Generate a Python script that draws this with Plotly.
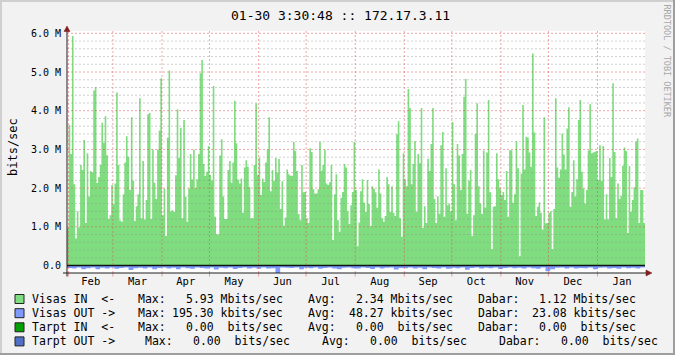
import plotly.graph_objects as go
import pandas as pd

# ---------------- data ----------------
title_text = "01-30 3:30:48 :: 172.17.3.11"
period_start = "2011-01-31 00:00"
period_end = "2012-01-31 00:00"

# Visas IN (Mbit/s), one value per step
visas_in_mbit = [
    0.97, 3.63, 2.88, 5.93, 2.10, 0.70, 1.40, 0.98, 2.60, 2.47, 3.24, 1.10, 2.90, 1.78, 2.44, 2.40,
    4.52, 4.61, 2.13, 2.29, 2.60, 3.69, 3.17, 3.86, 2.85, 1.20, 1.30, 2.08, 1.58, 2.12, 4.47, 2.60,
    1.16, 1.13, 1.84, 2.66, 3.34, 2.81, 1.95, 3.83, 2.19, 1.15, 1.53, 1.84, 4.32, 1.22, 2.70, 1.19,
    1.69, 3.91, 3.94, 1.20, 3.00, 2.14, 1.72, 3.00, 3.49, 4.84, 1.30,
    1.99, 0.76, 3.30, 5.04, 1.40, 1.43, 1.39, 2.33, 4.04, 2.78, 3.56, 1.22, 3.76, 1.78, 1.13, 1.99,
    2.88, 2.22, 3.00, 2.00, 2.23, 2.88, 4.97, 5.31, 2.62, 2.31, 2.42, 3.09, 2.34, 2.19, 4.64, 1.26,
    0.81, 0.81, 2.84, 3.26, 1.78, 1.20, 1.20, 2.47, 2.70, 2.14, 2.66, 4.26, 3.16, 2.22, 2.12, 2.25,
    1.36, 2.53, 2.72, 2.55, 2.03, 1.22, 1.22, 2.60, 4.19,
    2.34, 2.78, 1.82, 2.25, 2.16, 2.66, 3.00, 3.83, 1.92, 2.47, 2.19, 2.78, 2.40, 2.75, 1.46, 2.18,
    1.03, 1.24, 2.48, 2.36, 2.32, 2.32, 3.19, 2.96, 2.44, 1.33, 1.17, 2.60, 1.89, 1.90, 1.22, 1.10,
    3.03, 2.93, 1.97, 1.86, 1.86, 1.97, 3.20, 2.45, 2.60, 3.00, 2.12, 2.08, 2.15, 2.60, 0.66, 1.84,
    2.36, 1.17, 0.87, 1.75, 1.90, 2.62, 2.53, 1.40, 1.07, 1.56, 1.90,
    3.19, 1.95, 0.50, 1.11, 1.92, 2.23, 1.62, 1.39, 2.21, 1.59, 1.02, 2.05, 1.99, 1.89, 1.49, 2.48,
    1.86, 1.22, 1.13, 1.28, 2.29, 2.10, 1.39, 2.05, 1.36, 1.28, 3.39, 3.73, 1.22, 0.74, 2.90, 2.23,
    2.05, 4.56, 4.07, 2.10, 2.62, 3.22, 1.39, 2.88, 2.64, 4.07, 0.97, 1.53, 1.10, 2.76, 2.44, 3.14,
    4.07, 1.72, 1.10, 1.79, 1.34, 3.11, 3.45, 1.26, 2.51,
    1.56, 1.60, 1.40, 3.71, 2.10, 1.17, 3.14, 2.84, 1.95, 2.88, 4.36, 4.82, 1.34, 2.19, 2.47, 0.76,
    1.30, 3.40, 4.19, 2.05, 1.60, 1.33, 2.97, 1.50, 2.92, 4.28, 1.89, 0.42, 1.52, 1.53, 2.90, 2.23,
    1.99, 1.82, 1.90, 1.69, 2.44, 1.26, 2.98, 2.98, 1.62, 1.84, 3.21, 2.51, 0.24, 2.38, 4.15, 2.48,
    3.33, 3.31, 2.92, 2.55, 5.48, 3.44, 1.28, 1.52, 1.63, 1.36, 0.93, 3.83,
    1.09, 1.10, 1.36, 1.40, 0.42, 1.46, 4.32, 2.53, 2.27, 2.48, 3.41, 2.87, 2.48, 3.54, 4.09, 1.52,
    1.90, 2.72, 1.78, 2.23, 3.76, 4.28, 2.42, 1.99, 1.60, 1.95, 2.97, 4.17, 2.90, 2.92, 2.94, 2.96,
    2.21, 3.11, 2.19, 3.09, 1.19, 1.84, 1.19, 2.78, 2.29, 4.71, 2.93, 1.22, 2.12, 1.72, 1.80, 2.58,
    3.05, 2.96, 0.84, 2.57, 1.39, 1.69, 2.02, 3.20, 3.28, 1.10, 1.95, 1.95, 1.10,
]

# Visas OUT (kbit/s), coarser steps, drawn below zero
visas_out_kbit = [
    65, 80, 50, 95, 70, 55, 100, 60, 75, 50, 85, 65, 55, 115, 70, 60, 80, 50, 95, 65,
    55, 75, 60, 100, 50, 70, 85, 55, 65, 80, 50, 105, 60, 70, 55, 90, 65, 50, 75, 60,
    85, 55, 80, 70, 195, 50, 60, 65, 55, 95, 60, 70, 50, 85, 65, 55, 75, 100, 60, 50,
    70, 80, 55, 65, 90, 50, 75, 60, 55, 105, 65, 70, 50, 80, 60, 95, 55, 65, 75, 50,
    85, 60, 70, 55, 110, 65, 50, 80, 60, 70, 55, 90, 65, 50, 70, 60, 75, 55, 70, 85,
    50, 150, 95, 60, 55, 75, 50, 80, 65, 70, 55, 100, 60, 50, 75, 65, 85, 55, 70, 60,
    80, 55,
]

tarpt_in_bits = [0.0, 0.0]
tarpt_out_bits = [0.0, 0.0]

month_labels = ["Feb", "Mar", "Apr", "May", "Jun", "Jul", "Aug", "Sep", "Oct", "Nov", "Dec", "Jan"]
y_tick_values_m = [0, 1, 2, 3, 4, 5, 6]
y_tick_labels = ["0.0", "1.0 M", "2.0 M", "3.0 M", "4.0 M", "5.0 M", "6.0 M"]

legend_names = ["Visas IN  <-", "Visas OUT ->", "Tarpt IN  <-", "Tarpt OUT ->"]
legend_max = ["5.93 Mbits/sec", "195.30 kbits/sec", "0.00  bits/sec", "0.00  bits/sec"]
legend_avg = ["2.34 Mbits/sec", "48.27 kbits/sec", "0.00  bits/sec", "0.00  bits/sec"]
legend_last = ["1.12 Mbits/sec", "23.08 kbits/sec", "0.00  bits/sec", "0.00  bits/sec"]

# ---------------- style ----------------
W, H = 675, 355
L, R, T, B = 67, 645, 31, 273
FONT = "DejaVu Sans Mono"
BACK = "#f2f2f2"
SHADE_A = "#cfcfcf"
SHADE_B = "#9e9e9e"
GRID = "rgba(143,143,143,0.42)"
MGRID = "rgba(222,79,79,0.5)"
ARROW = "#801f1f"
AXIS = "#1f1f1f"
C_IN = "#7fdd7f"
C_OUT = "#7f9aff"
C_TIN = "#00a000"
C_TOUT = "#5070c8"
legend_colors = [C_IN, C_OUT, C_TIN, C_TOUT]
Y_MIN, Y_MAX = -0.194e6, 6.06e6


def px(x):
    return (x - L) / (R - L)


def py(y):
    return (B - y) / (B - T)


start = pd.Timestamp(period_start)
end = pd.Timestamp(period_end)

fig = go.Figure()

# Visas OUT (negative)
x_out = pd.date_range(start, end, periods=len(visas_out_kbit) + 1)
y_out = [-v * 1e3 for v in visas_out_kbit] + [-visas_out_kbit[-1] * 1e3]
fig.add_trace(go.Scatter(x=x_out, y=y_out, mode="lines", line=dict(width=0, shape="hv"),
                         fill="tozeroy", fillcolor=C_OUT, hoverinfo="skip", showlegend=False))

# Visas IN
x_in = pd.date_range(start, end, periods=len(visas_in_mbit) + 1)
y_in = [v * 1e6 for v in visas_in_mbit] + [visas_in_mbit[-1] * 1e6]
fig.add_trace(go.Scatter(x=x_in, y=y_in, mode="lines", line=dict(width=0, shape="hv"),
                         fill="tozeroy", fillcolor=C_IN, hoverinfo="skip", showlegend=False))

# Tarpt IN / OUT (all zero)
fig.add_trace(go.Scatter(x=[start, end], y=tarpt_in_bits, mode="lines",
                         line=dict(width=1.6, color="#0c240c"), hoverinfo="skip", showlegend=False))
fig.add_trace(go.Scatter(x=[start, end], y=tarpt_out_bits, mode="lines",
                         line=dict(width=1, color="#101418"), hoverinfo="skip", showlegend=False))

shapes = []
# horizontal grid (above data, like rrdtool)
for k in range(1, 31):
    val = k * 0.2e6
    col = MGRID if k % 5 == 0 else GRID
    shapes.append(dict(type="line", xref="paper", yref="y", x0=0, x1=1, y0=val, y1=val,
                       line=dict(color=col, width=1, dash="2px,2px"), layer="above"))
# vertical month grid
month_starts = pd.date_range(start, end, freq="MS")
for m in month_starts:
    shapes.append(dict(type="line", xref="x", yref="paper", x0=m, x1=m, y0=0, y1=1,
                       line=dict(color=MGRID, width=1, dash="2px,2px"), layer="above"))
    shapes.append(dict(type="line", xref="x", yref="paper", x0=m, x1=m, y0=py(273), y1=py(276.5),
                       line=dict(color=MGRID, width=1), layer="above"))

# axes
shapes.append(dict(type="line", xref="paper", yref="paper", x0=px(63), x1=px(647), y0=py(273), y1=py(273),
                   line=dict(color=AXIS, width=1), layer="above"))
shapes.append(dict(type="line", xref="paper", yref="paper", x0=px(67), x1=px(67), y0=py(276.5), y1=py(29),
                   line=dict(color=AXIS, width=1), layer="above"))
# arrows
shapes.append(dict(type="path", xref="paper", yref="paper",
                   path="M {} {} L {} {} L {} {} Z".format(px(646), py(270), px(652), py(273), px(646), py(276)),
                   fillcolor=ARROW, line=dict(color=ARROW, width=0.5), layer="above"))
shapes.append(dict(type="path", xref="paper", yref="paper",
                   path="M {} {} L {} {} L {} {} Z".format(px(64), py(31.5), px(67), py(26), px(70), py(31.5)),
                   fillcolor=ARROW, line=dict(color=ARROW, width=0.5), layer="above"))

# frame shading
shapes.append(dict(type="rect", xref="paper", yref="paper", x0=0, x1=1, y0=0, y1=1,
                   line=dict(width=0), fillcolor="#ffffff", layer="below"))
shapes.append(dict(type="rect", xref="paper", yref="paper", x0=px(0), x1=px(675), y0=py(0), y1=py(2),
                   line=dict(width=0), fillcolor=SHADE_A, layer="above"))
shapes.append(dict(type="rect", xref="paper", yref="paper", x0=px(0), x1=px(2), y0=py(0), y1=py(355),
                   line=dict(width=0), fillcolor=SHADE_A, layer="above"))
shapes.append(dict(type="rect", xref="paper", yref="paper", x0=px(0), x1=px(675), y0=py(353), y1=py(355),
                   line=dict(width=0), fillcolor=SHADE_B, layer="above"))
shapes.append(dict(type="rect", xref="paper", yref="paper", x0=px(673), x1=px(675), y0=py(0), y1=py(355),
                   line=dict(width=0), fillcolor=SHADE_B, layer="above"))

annotations = []
# title
annotations.append(dict(text=title_text, xref="paper", yref="paper", x=px(340), y=py(15),
                        xanchor="center", yanchor="middle", showarrow=False,
                        font=dict(family=FONT, size=13, color="#000")))
# y axis title
annotations.append(dict(text="bits/sec", xref="paper", yref="paper", x=px(13), y=py(147),
                        xanchor="center", yanchor="middle", showarrow=False, textangle=-90,
                        font=dict(family=FONT, size=12, color="#000")))
# watermark
annotations.append(dict(text="RRDTOOL / TOBI OETIKER", xref="paper", yref="paper", x=px(666.5), y=py(61),
                        xanchor="center", yanchor="middle", showarrow=False, textangle=90,
                        font=dict(family=FONT, size=8.5, color="#a8a8a8")))

# legend
row_y = [299, 313.2, 327.3, 341.4]
row_pos = [
    (137.7, 283, 307.3, 453.3, 477.7, 636.7),
    (137.7, 283, 307.3, 453.3, 477.7, 636.7),
    (137.7, 283, 307.3, 453.3, 477.7, 636.7),
    (144.3, 290, 321.7, 467.0, 498.3, 658.0),
]
LF = dict(family=FONT, size=11.5, color="#000")
for i in range(4):
    yy = py(row_y[i])
    p = row_pos[i]
    shapes.append(dict(type="rect", xref="paper", yref="paper", x0=px(15), x1=px(24),
                       y0=py(row_y[i] - 4.5), y1=py(row_y[i] + 4.5),
                       fillcolor=legend_colors[i], line=dict(color="#222", width=1), layer="above"))
    items = [
        (legend_names[i], 29.5, "left"),
        ("Max:", p[0] - 1.5, "left"),
        (legend_max[i], p[1] + 1.5, "right"),
        ("Avg:", p[2] - 1.5, "left"),
        (legend_avg[i], p[3] + 1.5, "right"),
        ("Dabar:", p[4] - 1.5, "left"),
        (legend_last[i], p[5] + 1.5, "right"),
    ]
    for txt, xx, anc in items:
        annotations.append(dict(text=txt.replace(" ", "&nbsp;"), xref="paper", yref="paper", x=px(xx), y=yy,
                                xanchor=anc, yanchor="middle", showarrow=False, font=LF))

# month label positions: middle of each month
month_ends = list(month_starts[1:]) + [end + pd.offsets.MonthBegin(0)]
label_pos = [a + (b - a) / 2 for a, b in zip(month_starts, month_ends)]

fig.update_layout(
    width=W, height=H, autosize=False,
    margin=dict(l=L, r=W - R, t=T, b=H - B, pad=0),
    paper_bgcolor=BACK, plot_bgcolor="#ffffff",
    showlegend=False,
    shapes=shapes, annotations=annotations,
    xaxis=dict(type="date", range=[start, end], tickmode="array", tickvals=label_pos, ticktext=month_labels,
               showgrid=False, zeroline=False, showline=False, ticks="", ticklabelstandoff=0,
               tickfont=dict(family=FONT, size=10.5, color="#000"), fixedrange=True),
    yaxis=dict(range=[Y_MIN, Y_MAX], tickmode="array", tickvals=[v * 1e6 for v in y_tick_values_m],
               ticktext=y_tick_labels, showgrid=False, zeroline=False, showline=False, ticks="",
               ticklabelstandoff=5, tickfont=dict(family=FONT, size=10, color="#000"), fixedrange=True),
)

fig.write_html("out.html")
